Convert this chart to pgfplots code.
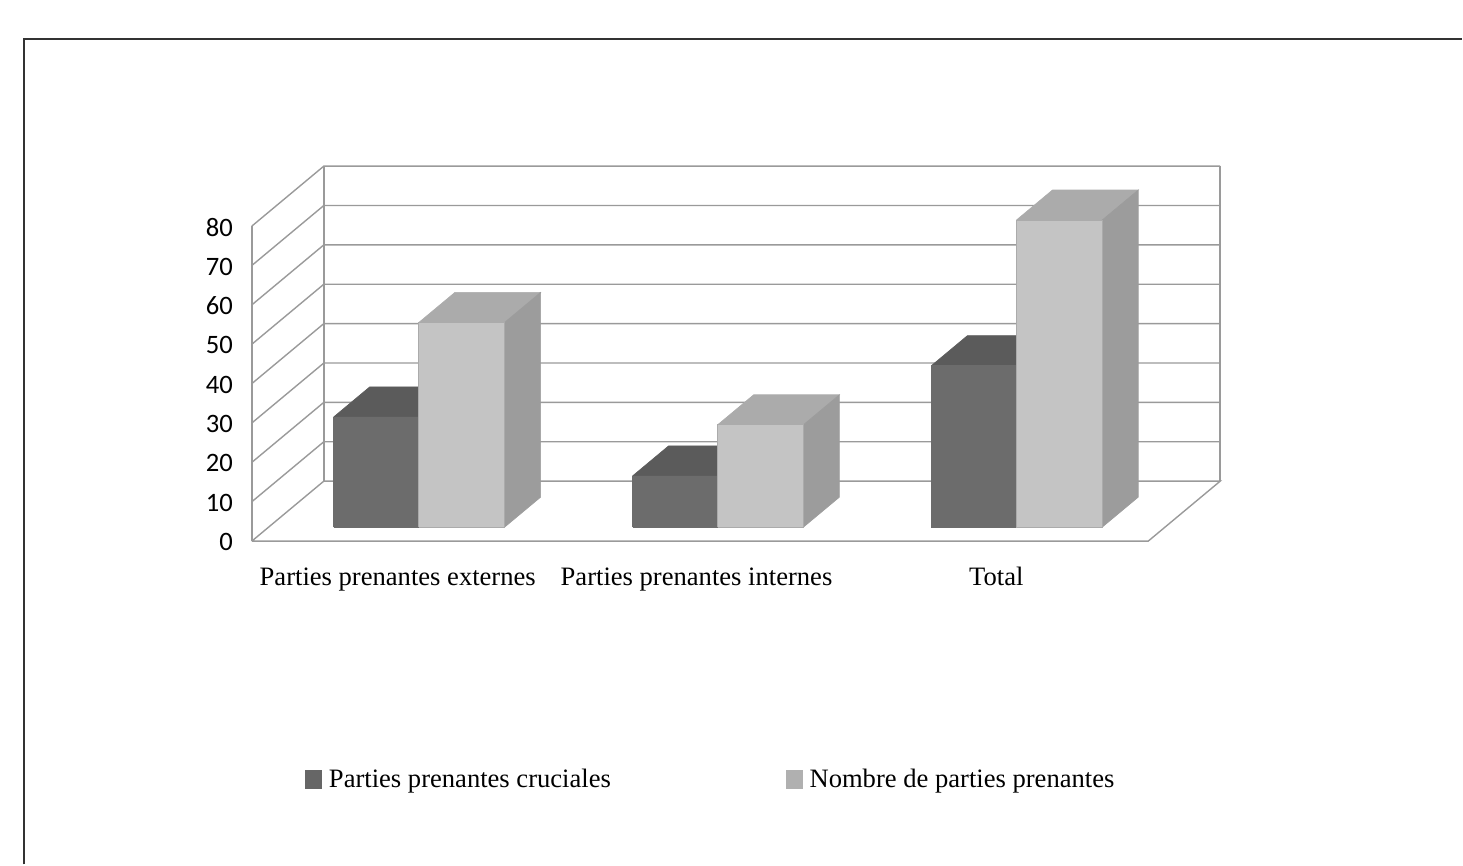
\documentclass[border=0pt]{standalone}
\usepackage{pgfplots}
\pgfplotsset{compat=1.18}
\usepackage{fontspec}
\setmainfont{Liberation Serif}
\newfontfamily\carlito{Carlito}
\definecolor{gridgray}{HTML}{9A9A9A}
\definecolor{dkfront}{HTML}{6C6C6C}
\definecolor{dktop}{HTML}{5B5B5B}
\definecolor{dkside}{HTML}{505050}
\definecolor{ltfront}{HTML}{C4C4C4}
\definecolor{lttop}{HTML}{ABABAB}
\definecolor{ltside}{HTML}{9C9C9C}
\definecolor{dkleg}{HTML}{666666}
\definecolor{ltleg}{HTML}{B0B0B0}
% #1,#2 x extent, #3 value, #4 front, #5 top, #6 side, #7 edge
\newcommand\cube[7]{%
  \addplot3[fill=#5,draw=#5,line width=0.3pt] coordinates {(#1,0.233,#3) (#2,0.233,#3) (#2,0.733,#3) (#1,0.733,#3) (#1,0.233,#3)};
  \addplot3[fill=#6,draw=#6,line width=0.3pt] coordinates {(#2,0.233,0) (#2,0.733,0) (#2,0.733,#3) (#2,0.233,#3) (#2,0.233,0)};
  \addplot3[fill=#4,draw=#7,line width=0.4pt] coordinates {(#1,0.233,0) (#2,0.233,0) (#2,0.233,#3) (#1,0.233,#3) (#1,0.233,0)};
}
\begin{document}
\begin{tikzpicture}
% chart in 3D space: x = category, y = depth, z = value
\begin{axis}[
  at={(0,0)}, anchor=origin,
  x={(149.5pt,0pt)}, y={(36pt,30pt)}, z={(0pt,1.97pt)},
  xmin=0, xmax=3, ymin=0, ymax=1, zmin=0, zmax=80,
  hide axis, clip=false, no markers,
]
\pgfplotsinvokeforeach{10,20,...,80}{
  \addplot3[draw=gridgray,line width=0.7pt] coordinates {(0,0,#1) (0,1,#1) (3,1,#1)};
}
\addplot3[draw=gridgray,line width=0.7pt] coordinates {(0,0,0) (3,0,0) (3,1,0) (0,1,0) (0,0,0)};
\addplot3[draw=gridgray,line width=0.9pt] coordinates {(0,0,0) (0,0,80)};
\addplot3[draw=gridgray,line width=0.9pt] coordinates {(0,1,0) (0,1,80)};
\addplot3[draw=gridgray,line width=0.9pt] coordinates {(3,1,0) (3,1,80)};
\cube{0.218}{0.503}{28}{dkfront}{dktop}{dkside}{dkfront}
\cube{0.503}{0.790}{52}{ltfront}{lttop}{ltside}{lttop}
\cube{1.218}{1.503}{13}{dkfront}{dktop}{dkside}{dkfront}
\cube{1.503}{1.790}{26}{ltfront}{lttop}{ltside}{lttop}
\cube{2.218}{2.503}{41}{dkfront}{dktop}{dkside}{dkfront}
\cube{2.503}{2.790}{78}{ltfront}{lttop}{ltside}{lttop}
\end{axis}
% page, frame, tick labels and legend: x in pixels, y in values
\begin{axis}[
  at={(-126pt,-161.75pt)}, anchor=south west,
  scale only axis, width=731.5pt, height=432.5pt,
  xmin=0, xmax=1463, ymin=-82.1, ymax=137.44,
  clip=false,
  axis line style={draw=none}, tick style={draw=none},
  major tick length=0pt,
  /pgf/number format/assume math mode=true,
  xtick={398,697,997},
  xticklabels={Parties prenantes externes,Parties prenantes internes,Total},
  x tick label style={font=\fontsize{13.3}{14}\selectfont, anchor=base, yshift=139.5pt},
  ytick={0,10,...,80},
  y tick label style={font=\carlito\fontsize{13.3}{15}\selectfont, anchor=east, xshift=120pt, yshift=-0.5pt},
  legend columns=2,
  legend cell align=left,
  legend style={draw=none, fill=none, at={(axis cs:299,-60.5)}, anchor=west,
    font=\fontsize{13.3}{14}\selectfont,
    /tikz/every even column/.style={column sep=85.5pt}},
  legend image code/.code={\fill[white,opacity=0] (0pt,-1pt) rectangle (9.5pt,1pt); \fill[#1] (0pt,-4.5pt) rectangle (8pt,4.5pt);},
]
\addplot[black!80,line width=1pt,forget plot] coordinates {(24,-82.1) (24,127.6) (1463,127.6)};
\addlegendimage{dkleg}
\addlegendentry{Parties prenantes cruciales}
\addlegendimage{ltleg}
\addlegendentry{Nombre de parties prenantes}
\end{axis}
\end{tikzpicture}
\end{document}
